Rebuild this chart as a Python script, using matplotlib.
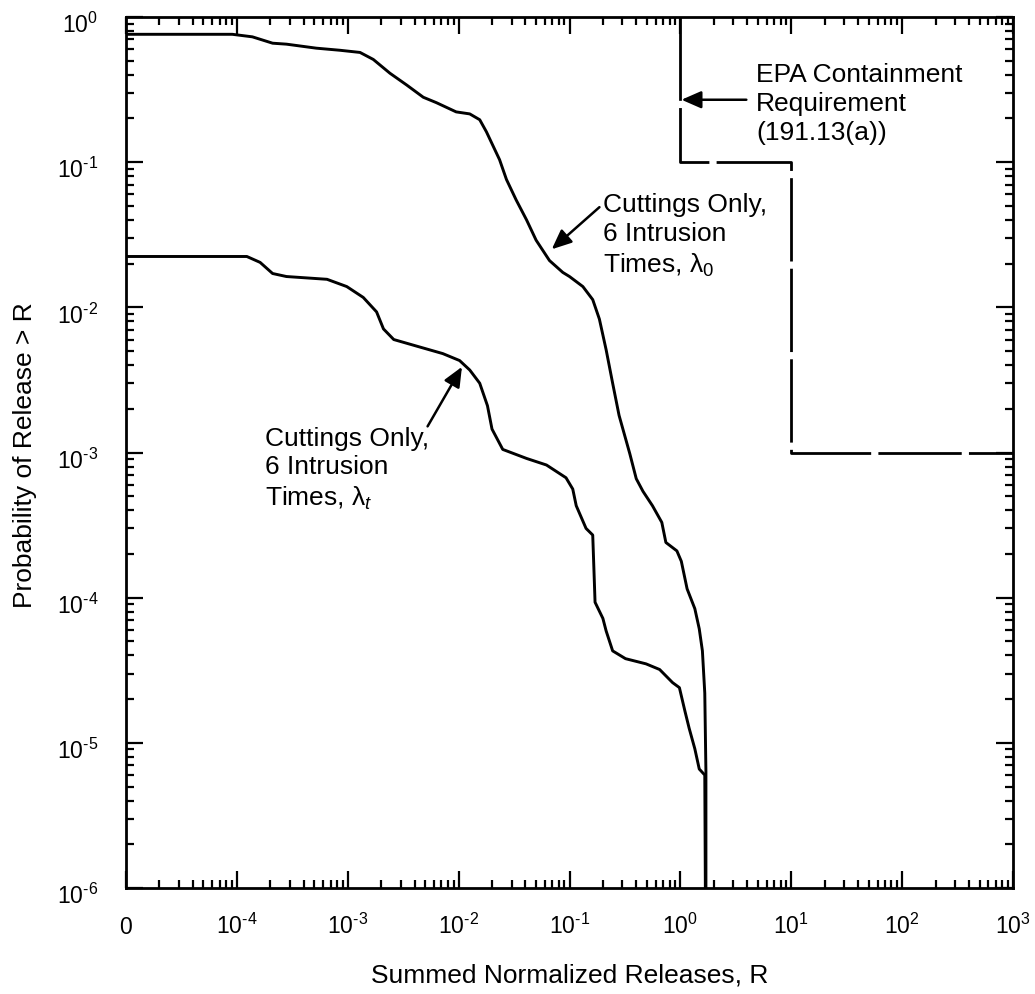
import matplotlib
matplotlib.use('Agg')
import matplotlib.pyplot as plt
import numpy as np
from matplotlib.ticker import LogLocator, NullFormatter
from matplotlib.transforms import ScaledTranslation

plt.rcParams['font.family'] = ['Liberation Sans', 'DejaVu Sans']
plt.rcParams['mathtext.fontset'] = 'custom'
plt.rcParams['mathtext.rm'] = 'Liberation Sans'
plt.rcParams['mathtext.it'] = 'Liberation Sans:italic'
plt.rcParams['mathtext.bf'] = 'Liberation Sans:bold'

# ---- data ----
# Cuttings only, 6 intrusion times, lambda_0
R_lambda0 = [1.0e-5, 9.1e-5, 1.38e-4, 2.1e-4, 2.8e-4, 5.2e-4, 8.5e-4, 1.29e-3, 1.7e-3,
             2.4e-3, 3.4e-3, 4.8e-3, 6.3e-3, 9.5e-3, 1.26e-2, 1.55e-2, 1.78e-2, 2.34e-2,
             2.7e-2, 3.3e-2, 4.1e-2, 5.0e-2, 6.6e-2, 8.7e-2, 0.100, 0.132, 0.162, 0.186,
             0.214, 0.245, 0.28, 0.35, 0.40, 0.46, 0.56, 0.68, 0.74, 0.93, 1.02, 1.15,
             1.35, 1.48, 1.58, 1.66, 1.70, 1.70]
P_lambda0 = [0.76, 0.76, 0.73, 0.66, 0.65, 0.61, 0.59, 0.57, 0.51,
             0.41, 0.34, 0.28, 0.257, 0.222, 0.215, 0.196, 0.162, 0.104,
             0.076, 0.055, 0.040, 0.029, 0.021, 0.0174, 0.0163, 0.0139, 0.0113, 0.0083,
             0.0051, 0.0030, 0.0018, 9.8e-4, 6.6e-4, 5.4e-4, 4.3e-4, 3.3e-4, 2.4e-4,
             2.1e-4, 1.78e-4, 1.15e-4, 8.4e-5, 6.1e-5, 4.3e-5, 2.2e-5, 6.3e-6, 1.0e-6]

# Cuttings only, 6 intrusion times, lambda_t
R_lambdat = [1.0e-5, 1.23e-4, 1.62e-4, 2.1e-4, 2.8e-4, 6.5e-4, 9.8e-4, 1.38e-3, 1.82e-3,
             2.1e-3, 2.6e-3, 4.2e-3, 7.2e-3, 1.02e-2, 1.26e-2, 1.55e-2, 1.82e-2, 2.0e-2,
             2.5e-2, 4.1e-2, 6.2e-2, 9.3e-2, 0.107, 0.115, 0.141, 0.162, 0.166, 0.170,
             0.20, 0.214, 0.245, 0.32, 0.49, 0.65, 0.85, 0.98, 1.10, 1.20, 1.35, 1.48,
             1.66, 1.68]
P_lambdat = [0.0224, 0.0224, 0.0204, 0.0171, 0.0163, 0.0156, 0.0139, 0.0117, 0.0093,
             0.0071, 0.0060, 0.0054, 0.0048, 0.0043, 0.0037, 0.0030, 0.0021, 0.00145,
             0.00105, 9.1e-4, 8.2e-4, 6.7e-4, 5.6e-4, 4.3e-4, 3.0e-4, 2.7e-4, 1.58e-4,
             9.3e-5, 7.2e-5, 5.9e-5, 4.3e-5, 3.8e-5, 3.5e-5, 3.2e-5, 2.6e-5, 2.4e-5,
             1.65e-5, 1.26e-5, 9.1e-6, 6.6e-6, 6.0e-6, 1.0e-6]

# EPA containment requirement (191.13(a))
R_epa = [1.0, 1.0, 10.0, 10.0, 1000.0]
P_epa = [1.0, 0.1, 0.1, 0.001, 0.001]

HY = '\u2010'  # short hyphen as in the original exponents
x_ticks = [1e-5, 1e-4, 1e-3, 1e-2, 1e-1, 1e0, 1e1, 1e2, 1e3]
x_ticklabels = ['0', '$10^{%s4}$' % HY, '$10^{%s3}$' % HY, '$10^{%s2}$' % HY,
                '$10^{%s1}$' % HY, '$10^{0}$', '$10^{1}$', '$10^{2}$', '$10^{3}$']
y_ticks = [1e-6, 1e-5, 1e-4, 1e-3, 1e-2, 1e-1, 1e0]
y_ticklabels = ['$10^{%s6}$' % HY, '$10^{%s5}$' % HY, '$10^{%s4}$' % HY,
                '$10^{%s3}$' % HY, '$10^{%s2}$' % HY, '$10^{%s1}$' % HY, '$10^{0}$']

W, H = 1035, 994
fig = plt.figure(figsize=(W / 100, H / 100), dpi=100)
ax = fig.add_axes([126 / W, 1 - 888 / H, (1013 - 126) / W, (888 - 17) / H])
ax.set_xscale('log')
ax.set_yscale('log')
ax.set_xlim(1e-5, 1e3)
ax.set_ylim(1e-6, 1e0)

ax.plot(R_lambda0, P_lambda0, color='black', lw=2.1, solid_joinstyle='round')
ax.plot(R_lambdat, P_lambdat, color='black', lw=2.1, solid_joinstyle='round')
ax.plot(R_epa, P_epa, color='black', lw=2.0, dashes=(30, 2.6))

for s in ax.spines.values():
    s.set_linewidth(2.0)

ax.set_xticks(x_ticks)
ax.set_xticklabels(x_ticklabels)
ax.set_yticks(y_ticks)
ax.set_yticklabels(y_ticklabels)
ax.xaxis.set_minor_locator(LogLocator(base=10, subs=np.arange(2, 10), numticks=100))
ax.yaxis.set_minor_locator(LogLocator(base=10, subs=np.arange(2, 10), numticks=100))
ax.xaxis.set_minor_formatter(NullFormatter())
ax.yaxis.set_minor_formatter(NullFormatter())
ax.tick_params(which='both', direction='in', top=True, right=True, width=1.6, color='black')
ax.tick_params(which='major', length=12, labelsize=16.5)
ax.tick_params(which='minor', length=6)
ax.tick_params(axis='x', which='major', pad=33)
ax.tick_params(axis='y', which='major', pad=20)
for t in ax.get_xticklabels():
    t.set_verticalalignment('baseline')
shift = ScaledTranslation(0, -6 / 100, fig.dpi_scale_trans)
for t in ax.get_yticklabels():
    t.set_transform(t.get_transform() + shift)

# axis labels
fig.text(569.5 / W, 1 - 983 / H, 'Summed Normalized Releases, R', ha='center', va='baseline',
         fontsize=19)
fig.text(25 / W, 1 - 455 / H, 'Probability of Release > R', ha='center', va='center',
         rotation=90, fontsize=19)

# annotations (position = left edge / baseline of last line)
txt_kw = dict(fontsize=19, ha='left', va='baseline', linespacing=1.25)
ax.text(4.84, 0.143, 'EPA Containment\nRequirement\n(191.13(a))', **txt_kw)
ax.text(0.20, 0.0174, 'Cuttings Only,\n6 Intrusion\nTimes, λ$_0$', **txt_kw)
ax.text(1.78e-4, 4.3e-4, 'Cuttings Only,\n6 Intrusion\nTimes, λ$_t$', **txt_kw)

arrow_kw = dict(arrowstyle='-|>,head_length=0.8,head_width=0.35', color='black', lw=1.8,
                mutation_scale=15, shrinkA=0, shrinkB=0)
ax.annotate('', xy=(10 ** 0.01, 10 ** -0.57), xytext=(10 ** 0.595, 10 ** -0.57),
            arrowprops=arrow_kw)
ax.annotate('', xy=(10 ** -1.16, 10 ** -1.60), xytext=(10 ** -0.73, 10 ** -1.31),
            arrowprops=arrow_kw)
ax.annotate('', xy=(10 ** -1.97, 10 ** -2.41), xytext=(10 ** -2.28, 10 ** -2.82),
            arrowprops=arrow_kw)

fig.savefig('out.png', dpi=100)
